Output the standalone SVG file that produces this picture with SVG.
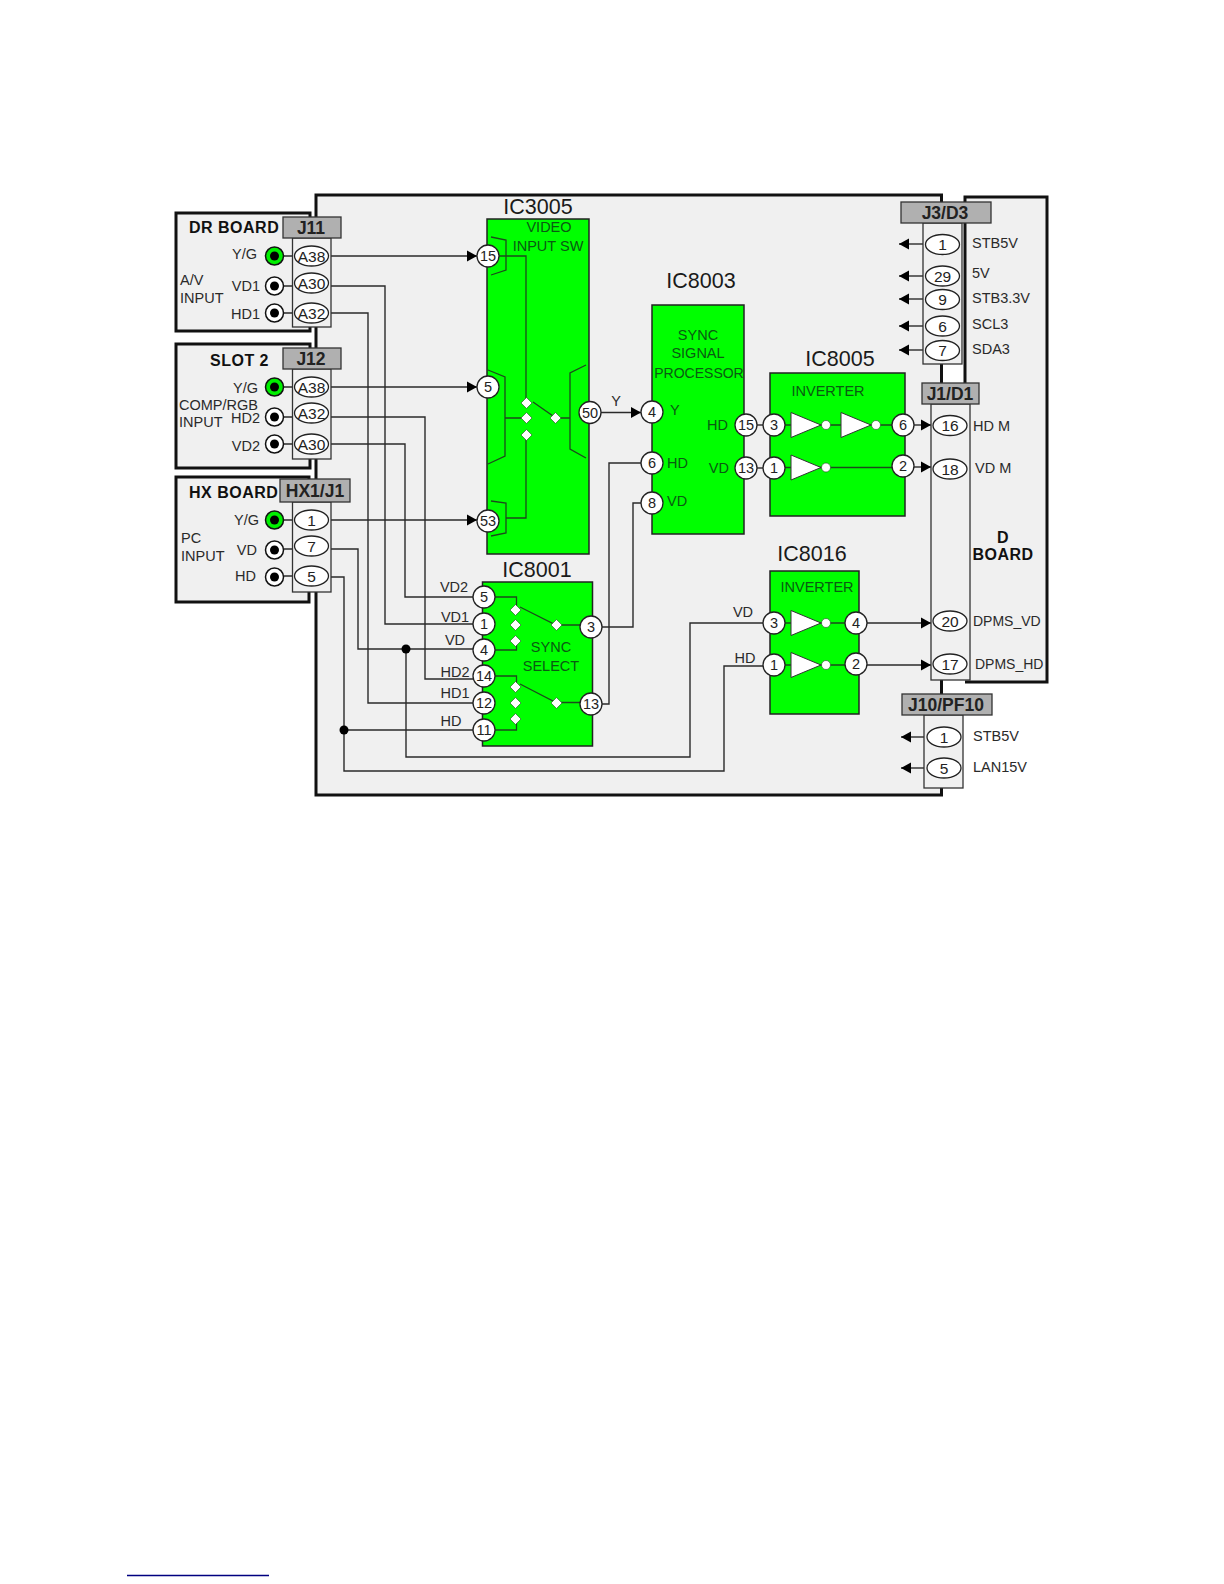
<svg xmlns="http://www.w3.org/2000/svg" width="1224" height="1584" viewBox="0 0 1224 1584">
<style>
text{font-family:"Liberation Sans",Arial,sans-serif;font-size:14.5px;fill:#2a2a2a;dominant-baseline:central}
.m{text-anchor:middle}
.e{text-anchor:end}
.b{font-weight:bold;font-size:16px;fill:#111;letter-spacing:.5px}
.h{font-weight:bold;font-size:17.5px;fill:#222;text-anchor:middle}
.t{font-size:21.5px;fill:#1a1a1a;text-anchor:middle}
.g{fill:#0a5a12}
.p{text-anchor:middle;fill:#222}
.o{text-anchor:middle;font-size:15.5px;fill:#222}
.s{font-size:14px}
.board{fill:#f0f0f0;stroke:#111;stroke-width:3}
.hdr{fill:#b0b0b0;stroke:#333;stroke-width:1.3}
.body{fill:#f0f0f0;stroke:#333;stroke-width:1.3}
.ic{fill:#00ff00;stroke:#222;stroke-width:1.5}
.pin{fill:#fff;stroke:#222;stroke-width:1.3}
.ell{fill:#fff;stroke:#222;stroke-width:1.3}
.w{fill:none;stroke:#2a2a2a;stroke-width:1.4}
.a{marker-end:url(#arr)}
.ij{fill:#fff;stroke:#111;stroke-width:1.5}
.ig{fill:#00f000;stroke:#111;stroke-width:1.5}
.dot{fill:#000}
.dia{fill:#fff;stroke:#1c4a1c;stroke-width:.6}
.bub{fill:#fff;stroke:#1c4a1c;stroke-width:.6}
.tri{fill:#fff;stroke:#333;stroke-width:1}
.int{fill:none;stroke:#1c4a1c;stroke-width:1.3}
</style>
<defs>
<marker id="arr" markerUnits="userSpaceOnUse" markerWidth="12" markerHeight="12" refX="10.5" refY="6" orient="auto"><path d="M0.5 0.5L10.5 6L0.5 11.5Z" fill="#000"/></marker>
<path id="d" class="dia" d="M0-5.500L5.500 0L0 5.500L-5.500 0Z"/>
<g id="inv"><path class="tri" d="M0-12.500L30 0L0 12.500Z"/><circle class="bub" cx="35" cy="0" r="4.500"/></g>
</defs>
<rect width="1224" height="1584" fill="#fff"/>

<g id="main-board"><rect class="board" x="316" y="195" width="625.500" height="600"/></g>
<g id="d-board"><path d="M965 385V197H1047V682H965" class="board"/>
<text class="b m" x="1003" y="537">D</text><text class="b m" x="1003" y="554">BOARD</text></g>

<g id="connectors">
<path class="w a" d="M331 256H477"/>
<path class="w a" d="M331 387H477"/>
<path class="w a" d="M331 520H477"/>
<path class="w" d="M331 286H385V624H484"/>
<path class="w" d="M331 313H368V703H484"/>
<path class="w" d="M331 417H425V679H484"/>
<path class="w" d="M331 444H405V597H484"/>
<path class="w" d="M331 549H358V649H484"/>
<path class="w" d="M331 577H344V771H724V666H774"/>
<path class="w" d="M344 730H484"/>
<path class="w" d="M406 649V757H690V623H774"/>
<circle class="dot" cx="406" cy="649" r="4.500"/>
<circle class="dot" cx="344" cy="730" r="4.500"/>
<path class="w" d="M591 704H609V463H652"/>
<path class="w" d="M591 627H633V503H652"/>
<path class="w a" d="M590 412.500H641"/>
<path class="w" d="M746 425H774"/>
<path class="w" d="M746 468H774"/>
<path class="w a" d="M903 425H931"/>
<path class="w a" d="M903 467H931"/>
<path class="w a" d="M856 623H931"/>
<path class="w a" d="M856 665H931"/>
<path class="w a" d="M923 244H899"/>
<path class="w a" d="M923 276H899"/>
<path class="w a" d="M923 299H899"/>
<path class="w a" d="M923 326H899"/>
<path class="w a" d="M923 350H899"/>
<path class="w a" d="M924 737H901"/>
<path class="w a" d="M924 768H901"/>
<text x="616" y="401" class="m">Y</text>
<text x="743" y="612" class="m">VD</text>
<text x="745" y="658" class="m">HD</text>
<text x="454" y="587" class="m">VD2</text>
<text x="455" y="617" class="m">VD1</text>
<text x="455" y="640" class="m">VD</text>
<text x="455" y="672" class="m">HD2</text>
<text x="455" y="693" class="m">HD1</text>
<text x="451" y="721" class="m">HD</text>
</g>

<g id="dr-board">
<rect class="board" x="176" y="213" width="134" height="118"/>
<text class="b" x="189" y="227">DR BOARD</text>
<text x="180" y="280">A/V</text><text x="180" y="298">INPUT</text>
<text class="e" x="257" y="254">Y/G</text><text class="e" x="260" y="286">VD1</text><text class="e" x="260" y="314">HD1</text>
<path class="w" d="M284 256H293M284 286H293M284 313H293"/>
<circle class="ig" cx="274.500" cy="256" r="9"/><circle class="dot" cx="274.500" cy="256" r="4.500"/>
<circle class="ij" cx="274.500" cy="286" r="9"/><circle class="dot" cx="274.500" cy="286" r="4.500"/>
<circle class="ij" cx="274.500" cy="313" r="9"/><circle class="dot" cx="274.500" cy="313" r="4.500"/>
</g>
<g id="j11">
<rect class="body" x="292.500" y="238" width="38.500" height="89"/>
<rect class="hdr" x="283" y="217" width="58" height="21"/>
<text class="h" x="311" y="228">J11</text>
<ellipse class="ell" cx="311.500" cy="256" rx="17" ry="10"/><text class="o" x="311.500" y="256">A38</text>
<ellipse class="ell" cx="311.500" cy="283" rx="17" ry="10"/><text class="o" x="311.500" y="283">A30</text>
<ellipse class="ell" cx="311.500" cy="313" rx="17" ry="10"/><text class="o" x="311.500" y="313">A32</text>
</g>

<g id="slot-2">
<rect class="board" x="176" y="344" width="134" height="124"/>
<text class="b" x="210" y="360">SLOT 2</text>
<text x="179" y="405">COMP/RGB</text><text x="179" y="422">INPUT</text>
<text class="e" x="258" y="388">Y/G</text><text class="e" x="260" y="418">HD2</text><text class="e" x="260" y="446">VD2</text>
<path class="w" d="M284 387H293M284 417H293M284 444H293"/>
<circle class="ig" cx="274.500" cy="387" r="9"/><circle class="dot" cx="274.500" cy="387" r="4.500"/>
<circle class="ij" cx="274.500" cy="417" r="9"/><circle class="dot" cx="274.500" cy="417" r="4.500"/>
<circle class="ij" cx="274.500" cy="444" r="9"/><circle class="dot" cx="274.500" cy="444" r="4.500"/>
</g>
<g id="j12">
<rect class="body" x="292.500" y="369" width="38.500" height="90"/>
<rect class="hdr" x="283" y="348" width="58" height="21"/>
<text class="h" x="311" y="359">J12</text>
<ellipse class="ell" cx="311.500" cy="387" rx="17" ry="10"/><text class="o" x="311.500" y="387">A38</text>
<ellipse class="ell" cx="311.500" cy="413" rx="17" ry="10"/><text class="o" x="311.500" y="413">A32</text>
<ellipse class="ell" cx="311.500" cy="444" rx="17" ry="10"/><text class="o" x="311.500" y="444">A30</text>
</g>

<g id="hx-board">
<rect class="board" x="176" y="477" width="133" height="125"/>
<text class="b" x="189" y="492">HX BOARD</text>
<text x="181" y="538">PC</text><text x="181" y="556">INPUT</text>
<text class="e" x="259" y="520">Y/G</text><text class="e" x="257" y="550">VD</text><text class="e" x="256" y="576">HD</text>
<path class="w" d="M284 520H293M284 549H293M284 576H293"/>
<circle class="ig" cx="274.500" cy="520" r="9"/><circle class="dot" cx="274.500" cy="520" r="4.500"/>
<circle class="ij" cx="274.500" cy="550" r="9"/><circle class="dot" cx="274.500" cy="550" r="4.500"/>
<circle class="ij" cx="274.500" cy="577" r="9"/><circle class="dot" cx="274.500" cy="577" r="4.500"/>
</g>
<g id="hx1-j1">
<rect class="body" x="292.500" y="502" width="38.500" height="90"/>
<rect class="hdr" x="280" y="479" width="70" height="23"/>
<text class="h" x="315" y="491">HX1/J1</text>
<ellipse class="ell" cx="311.500" cy="520" rx="17" ry="10"/><text class="o" x="311.500" y="520">1</text>
<ellipse class="ell" cx="311.500" cy="546" rx="17" ry="10"/><text class="o" x="311.500" y="546">7</text>
<ellipse class="ell" cx="311.500" cy="576" rx="17" ry="10"/><text class="o" x="311.500" y="576">5</text>
</g>

<g id="ic3005">
<text class="t" x="538" y="207">IC3005</text>
<rect class="ic" x="487" y="219" width="102" height="335"/>
<text class="g m" x="549" y="227">VIDEO</text><text class="g m" x="548" y="246">INPUT SW</text>
<path class="int" d="M491 237L506 240V270L491 275M488 370L505 377V456L488 464M491 501L506 503V533L491 536M586 365L570 373V449L586 458"/>
<path class="int" d="M499 256H526V403M506 518H526V435M505 418H527M533 402L556 418H570"/>
<use href="#d" x="526.500" y="403"/><use href="#d" x="526.500" y="418"/><use href="#d" x="526.500" y="435"/><use href="#d" x="555.500" y="418"/>
<circle class="pin" cx="488" cy="256" r="11"/><text class="p" x="488" y="256">15</text>
<circle class="pin" cx="488" cy="387" r="11"/><text class="p" x="488" y="387">5</text>
<circle class="pin" cx="488" cy="521" r="11"/><text class="p" x="488" y="521">53</text>
<circle class="pin" cx="590" cy="412.500" r="11"/><text class="p" x="590" y="412.500">50</text>
</g>

<g id="ic8003">
<text class="t" x="701" y="281">IC8003</text>
<rect class="ic" x="652" y="305" width="92" height="229"/>
<text class="g m" x="698" y="335">SYNC</text><text class="g m" x="698" y="353">SIGNAL</text><text class="g m s" x="699" y="373">PROCESSOR</text>
<text class="g" x="670" y="410">Y</text><text class="g" x="667" y="463">HD</text><text class="g" x="667" y="501">VD</text>
<text class="g e" x="728" y="425">HD</text><text class="g e" x="729" y="468">VD</text>
<circle class="pin" cx="652" cy="412" r="11"/><text class="p" x="652" y="412">4</text>
<circle class="pin" cx="652" cy="463" r="11"/><text class="p" x="652" y="463">6</text>
<circle class="pin" cx="652" cy="503" r="11"/><text class="p" x="652" y="503">8</text>
<circle class="pin" cx="746" cy="425" r="11"/><text class="p" x="746" y="425">15</text>
<circle class="pin" cx="746" cy="468" r="11"/><text class="p" x="746" y="468">13</text>
</g>

<g id="ic8001">
<text class="t" x="537" y="570">IC8001</text>
<rect class="ic" x="482.500" y="582" width="110" height="164"/>
<text class="g m" x="551" y="647">SYNC</text><text class="g m" x="551" y="666">SELECT</text>
<path class="int" d="M494 597H516.500V606M494 650H516.500V641M494 676H516.500V684M494 730H516.500V719M520 607L556 625H580M520 684L556 702.500H580"/>
<use href="#d" x="515.500" y="610"/><use href="#d" x="515.500" y="625"/><use href="#d" x="515.500" y="641"/>
<use href="#d" x="515.500" y="687"/><use href="#d" x="515.500" y="703"/><use href="#d" x="515.500" y="719"/>
<use href="#d" x="556.500" y="625"/><use href="#d" x="556.500" y="703"/>
<circle class="pin" cx="484" cy="597" r="11"/><text class="p" x="484" y="597">5</text>
<circle class="pin" cx="484" cy="624" r="11"/><text class="p" x="484" y="624">1</text>
<circle class="pin" cx="484" cy="650" r="11"/><text class="p" x="484" y="650">4</text>
<circle class="pin" cx="484" cy="676" r="11"/><text class="p" x="484" y="676">14</text>
<circle class="pin" cx="484" cy="703" r="11"/><text class="p" x="484" y="703">12</text>
<circle class="pin" cx="484" cy="730" r="11"/><text class="p" x="484" y="730">11</text>
<circle class="pin" cx="591" cy="627" r="11"/><text class="p" x="591" y="627">3</text>
<circle class="pin" cx="591" cy="704" r="11"/><text class="p" x="591" y="704">13</text>
</g>

<g id="ic8005">
<text class="t" x="840" y="359">IC8005</text>
<rect class="ic" x="770" y="373" width="135" height="143"/>
<text class="g m" x="828" y="391">INVERTER</text>
<path class="int" d="M785 425H900M785 467.500H900"/>
<use href="#inv" x="791" y="425"/><use href="#inv" x="841" y="425"/><use href="#inv" x="791" y="467.500"/>
<circle class="pin" cx="774" cy="425" r="11"/><text class="p" x="774" y="425">3</text>
<circle class="pin" cx="774" cy="468" r="11"/><text class="p" x="774" y="468">1</text>
<circle class="pin" cx="903" cy="425" r="11"/><text class="p" x="903" y="425">6</text>
<circle class="pin" cx="903" cy="466" r="11"/><text class="p" x="903" y="466">2</text>
</g>

<g id="ic8016">
<text class="t" x="812" y="554">IC8016</text>
<rect class="ic" x="770" y="571" width="89" height="143"/>
<text class="g m" x="817" y="587">INVERTER</text>
<path class="int" d="M785 623H850M785 665H850"/>
<use href="#inv" x="791" y="623"/><use href="#inv" x="791" y="665"/>
<circle class="pin" cx="774" cy="623" r="11"/><text class="p" x="774" y="623">3</text>
<circle class="pin" cx="774" cy="665" r="11"/><text class="p" x="774" y="665">1</text>
<circle class="pin" cx="856" cy="623" r="11"/><text class="p" x="856" y="623">4</text>
<circle class="pin" cx="856" cy="664" r="11"/><text class="p" x="856" y="664">2</text>
</g>

<g id="j3-d3">
<rect class="body" x="923" y="223" width="39" height="141"/>
<rect class="hdr" x="901" y="202" width="90" height="21"/>
<text class="h" x="945" y="213">J3/D3</text>
<ellipse class="ell" cx="942.500" cy="244.500" rx="17" ry="10"/><text class="o" x="942.500" y="244.500">1</text>
<ellipse class="ell" cx="942.500" cy="276" rx="17" ry="10"/><text class="o" x="942.500" y="276">29</text>
<ellipse class="ell" cx="942.500" cy="299.500" rx="17" ry="10"/><text class="o" x="942.500" y="299.500">9</text>
<ellipse class="ell" cx="942.500" cy="326" rx="17" ry="10"/><text class="o" x="942.500" y="326">6</text>
<ellipse class="ell" cx="942.500" cy="350.500" rx="17" ry="10"/><text class="o" x="942.500" y="350.500">7</text>
<text x="972" y="243">STB5V</text><text x="972" y="273">5V</text><text x="972" y="298">STB3.3V</text><text x="972" y="324">SCL3</text><text x="972" y="348.500">SDA3</text>
</g>

<g id="j1-d1">
<rect class="body" x="931" y="404" width="39" height="276"/>
<rect class="hdr" x="922" y="383" width="57" height="21"/>
<text class="h" x="950" y="394">J1/D1</text>
<ellipse class="ell" cx="950" cy="425.500" rx="17" ry="10"/><text class="o" x="950" y="425.500">16</text>
<ellipse class="ell" cx="950" cy="469" rx="17" ry="10"/><text class="o" x="950" y="469">18</text>
<ellipse class="ell" cx="950" cy="621" rx="17" ry="10"/><text class="o" x="950" y="621">20</text>
<ellipse class="ell" cx="950" cy="664" rx="17" ry="10"/><text class="o" x="950" y="664">17</text>
<text x="973" y="426">HD M</text><text x="975" y="468">VD M</text><text class="s" x="973" y="621">DPMS_VD</text><text class="s" x="975" y="664">DPMS_HD</text>
</g>

<g id="j10-pf10">
<rect class="body" x="924" y="715" width="39" height="73"/>
<rect class="hdr" x="902" y="694" width="90" height="21"/>
<text class="h" x="946" y="705">J10/PF10</text>
<ellipse class="ell" cx="944" cy="737" rx="17" ry="10"/><text class="o" x="944" y="737">1</text>
<ellipse class="ell" cx="944" cy="768" rx="17" ry="10"/><text class="o" x="944" y="768">5</text>
<text x="973" y="736">STB5V</text><text x="973" y="767">LAN15V</text>
</g>

<path d="M127 1575.500H269" stroke="#000080" stroke-width="1.500" fill="none"/>
</svg>
